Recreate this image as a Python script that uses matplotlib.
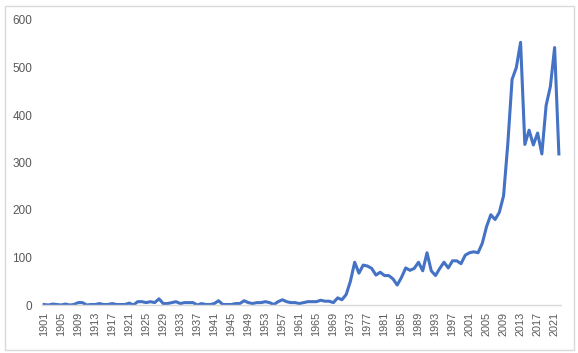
import matplotlib
matplotlib.use("Agg")
import matplotlib.pyplot as plt
from matplotlib.patches import Rectangle

years = list(range(1901, 2023))
values = [
    1, 0, 2, 1, 0, 2, 0, 1, 5, 5,          # 1901-1910
    0, 1, 1, 3, 1, 1, 3, 1, 1, 1,          # 1911-1920
    4, 0, 7, 7, 5, 7, 5, 13, 3, 3,         # 1921-1930
    5, 7, 3, 5, 5, 5, 0, 3, 1, 1,          # 1931-1940
    3, 9, 1, 1, 1, 3, 3, 9, 5, 3,          # 1941-1950
    5, 5, 7, 5, 1, 7, 11, 7, 5, 5,         # 1951-1960
    3, 5, 7, 7, 7, 10, 8, 8, 5, 15,        # 1961-1970
    11, 22, 50, 90, 67, 84, 82, 77, 63, 69,  # 1971-1980
    62, 62, 55, 42, 58, 78, 73, 77, 90, 72,  # 1981-1990
    110, 72, 62, 77, 90, 78, 93, 93, 87, 105,  # 1991-2000
    110, 112, 110, 130, 165, 190, 180, 195, 230, 340,  # 2001-2010
    475, 500, 553, 338, 368, 337, 362, 318, 420, 460,  # 2011-2020
    542, 318,                                # 2021-2022
]
xtick_years = list(range(1901, 2023, 4))
yticks = [0, 100, 200, 300, 400, 500, 600]

plt.rcParams["font.family"] = ["Liberation Sans", "DejaVu Sans"]

W, H = 578, 353
fig = plt.figure(figsize=(W / 100, H / 100), dpi=100)
fig.patches.append(Rectangle((5 / W, 3 / H), 569 / W, 344 / H, transform=fig.transFigure,
                             fill=False, edgecolor="#d9d9d9", linewidth=1))

left, right = 42 / W, 561 / W
top, bottom = 1 - 20 / H, 1 - 305 / H
ax = fig.add_axes([left, bottom, right - left, top - bottom])

ax.plot(years, values, color="#4472C4", linewidth=2.2, solid_joinstyle="round")

ax.set_xlim(1900.5, 2022.5)
ax.set_ylim(0, 600)
ax.set_yticks(yticks)
ax.set_yticklabels([str(v) for v in yticks])
ax.set_xticks(xtick_years)
ax.set_xticklabels([str(y) for y in xtick_years], rotation=90)

for s in ["top", "right", "left"]:
    ax.spines[s].set_visible(False)
ax.spines["bottom"].set_color("#d9d9d9")
ax.spines["bottom"].set_linewidth(1)
ax.tick_params(axis="both", length=0, colors="#595959")
ax.tick_params(axis="y", pad=7, labelsize=8.5)
ax.tick_params(axis="x", pad=5, labelsize=7.8)
ax.set_facecolor("none")

fig.savefig("out.png", dpi=100)
